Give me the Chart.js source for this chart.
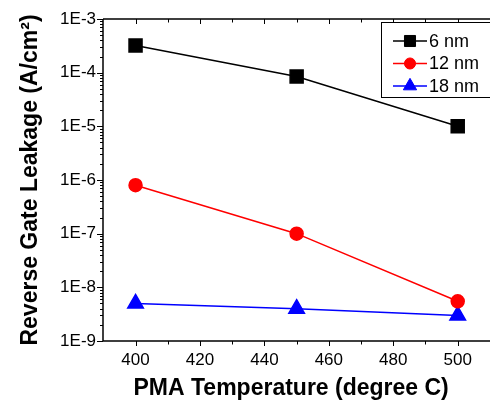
<!doctype html>
<html lang="en">
<head>
<meta charset="UTF-8" />
<title>Reverse Gate Leakage</title>
<script src="https://cdn.jsdelivr.net/npm/chart.js"></script>
<style>
    body { margin: 0; background: #fff; overflow: hidden; }
    #wrap { width: 490px; height: 405px; overflow: hidden; }
</style>
</head>
<body>
<div id="wrap">
    <canvas id="myChart" width="490" height="405"></canvas>
</div>
<script>
    // values
    const temps = [400, 450, 500];
    const leak6 = [3.2e-4, 8.5e-5, 1e-5];
    const leak12 = [8e-7, 1e-7, 5.5e-9];
    const leak18 = [5e-9, 4e-9, 3e-9];
    const seriesNames = ['6 nm', '12 nm', '18 nm'];
    const xTicks = [400, 420, 440, 460, 480, 500];
    const yExps = [-9, -8, -7, -6, -5, -4, -3];

    const font = 'Liberation Sans, Arial, sans-serif';

    function pts(vals) {
        return vals.map((v, i) => ({ x: temps[i], y: v }));
    }

    // frame, ticks (major/minor) and legend with line through marker
    const extras = {
        id: 'extras',
        afterDraw(chart) {
            const { ctx, chartArea: a, scales: { x, y } } = chart;
            const edge = chart.width + 5;
            ctx.save();
            ctx.strokeStyle = '#000';
            ctx.lineWidth = 1.5;
            ctx.beginPath();
            ctx.moveTo(a.left, a.top); ctx.lineTo(edge, a.top);
            ctx.moveTo(a.left, a.top); ctx.lineTo(a.left, a.bottom); ctx.lineTo(edge, a.bottom);
            ctx.stroke();

            ctx.lineWidth = 1;
            ctx.beginPath();
            // x ticks: majors at labels, minors between
            let xs = [];
            xTicks.forEach((t, i) => {
                xs.push([t, 5]);
                if (i < xTicks.length - 1) xs.push([(t + xTicks[i + 1]) / 2, 3.5]);
            });
            xs.forEach(([v, len]) => {
                const px = Math.round(x.getPixelForValue(v)) + 0.5;
                ctx.moveTo(px, a.bottom); ctx.lineTo(px, a.bottom + len);
                ctx.moveTo(px, a.top); ctx.lineTo(px, a.top + len);
            });
            // y ticks
            yExps.forEach((e, i) => {
                const py = Math.round(y.getPixelForValue(Math.pow(10, e))) + 0.5;
                ctx.moveTo(a.left - 6, py); ctx.lineTo(a.left, py);
                if (i < yExps.length - 1) {
                    for (let m = 2; m <= 9; m++) {
                        const pm = Math.round(y.getPixelForValue(m * Math.pow(10, e))) + 0.5;
                        ctx.moveTo(a.left - 3, pm); ctx.lineTo(a.left, pm);
                    }
                }
            });
            ctx.stroke();

            // legend (right edge runs off the picture like the original)
            const bx = 381, by = 22, bw = 150, bh = 75;
            ctx.fillStyle = '#fff';
            ctx.fillRect(bx, by, bw, bh);
            ctx.lineWidth = 1;
            ctx.strokeStyle = '#000';
            ctx.strokeRect(bx + 0.5, by + 0.5, bw, bh);
            chart.data.datasets.forEach((ds, i) => {
                const cy = by + 19 + i * 22.5;
                ctx.strokeStyle = ds.borderColor;
                ctx.lineWidth = 1.5;
                ctx.beginPath();
                ctx.moveTo(bx + 12, cy); ctx.lineTo(bx + 46, cy);
                ctx.stroke();
                ctx.fillStyle = ds.pointBackgroundColor;
                ctx.lineWidth = 1;
                Chart.helpers.drawPoint(ctx, {
                    pointStyle: ds.pointStyle, rotation: 0,
                    radius: ds.pointRadius * 0.85, borderWidth: 1
                }, bx + 29, cy);
                ctx.fillStyle = '#000';
                ctx.font = '18px ' + font;
                ctx.textBaseline = 'middle';
                ctx.fillText(ds.label, bx + 48, cy + 1);
            });
            ctx.restore();
        }
    };

    new Chart(document.getElementById('myChart'), {
        type: 'line',
        data: {
            datasets: [{
                label: seriesNames[0],
                data: pts(leak6),
                borderColor: '#000000',
                backgroundColor: '#000000',
                pointBackgroundColor: '#000000',
                pointStyle: 'rect',
                pointRadius: 9.2,
                borderWidth: 1.5
            }, {
                label: seriesNames[1],
                data: pts(leak12),
                borderColor: '#ff0000',
                backgroundColor: '#ff0000',
                pointBackgroundColor: '#ff0000',
                pointStyle: 'circle',
                pointRadius: 6.5,
                borderWidth: 1.5
            }, {
                label: seriesNames[2],
                data: pts(leak18),
                borderColor: '#0000ff',
                backgroundColor: '#0000ff',
                pointBackgroundColor: '#0000ff',
                pointStyle: 'triangle',
                pointRadius: 9,
                borderWidth: 1.5
            }]
        },
        options: {
            responsive: false,
            animation: false,
            devicePixelRatio: 1,
            layout: { padding: { left: 17, top: 19, right: 0, bottom: 0 } },
            plugins: { legend: { display: false }, tooltip: { enabled: false } },
            scales: {
                x: {
                    type: 'linear',
                    min: 389.9,
                    max: 506.7,
                    afterBuildTicks: s => { s.ticks = xTicks.map(v => ({ value: v })); },
                    afterFit: s => { s.height = 64; },
                    grid: { display: false, drawTicks: false },
                    border: { display: false },
                    ticks: { color: '#000', padding: 9, font: { family: font, size: 17 } },
                    title: {
                        display: true,
                        text: 'PMA Temperature (degree C)',
                        color: '#000',
                        padding: { top: 0, bottom: 3 },
                        font: { family: font, size: 23, weight: 'bold' }
                    }
                },
                y: {
                    type: 'logarithmic',
                    min: 1e-9,
                    max: 1e-3,
                    afterBuildTicks: s => { s.ticks = yExps.map(e => ({ value: Math.pow(10, e) })); },
                    afterFit: s => { s.width = 86; },
                    grid: { display: false, drawTicks: false },
                    border: { display: false },
                    ticks: {
                        color: '#000',
                        padding: 7,
                        font: { family: font, size: 17 },
                        callback: v => '1E' + Math.round(Math.log10(v))
                    },
                    title: {
                        display: true,
                        text: 'Reverse Gate Leakage (A/cm²)',
                        color: '#000',
                        padding: { top: 0, bottom: 0 },
                        font: { family: font, size: 23, weight: 'bold' }
                    }
                }
            }
        },
        plugins: [extras]
    });
</script>
</body>
</html>
